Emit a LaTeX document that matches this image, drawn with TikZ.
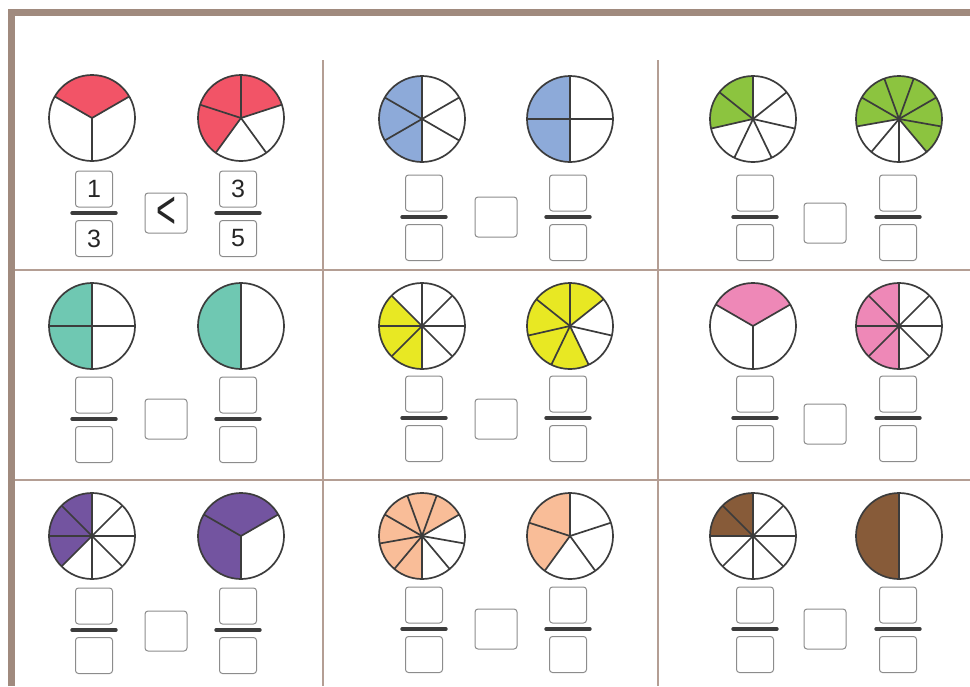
\documentclass[tikz,border=0pt]{standalone}
\usepackage{fontspec}
\setmainfont{Liberation Sans}
\usepackage{graphicx}
\usetikzlibrary{positioning}

\definecolor{framec}{HTML}{A08A7E}
\definecolor{gridc}{HTML}{B49E94}
\definecolor{inkc}{HTML}{3C3C3C}
\definecolor{boxc}{HTML}{8C8C8C}
\definecolor{pred}{HTML}{F25467}
\definecolor{pblue}{HTML}{8DAAD9}
\definecolor{pgreen}{HTML}{8CC43F}
\definecolor{pteal}{HTML}{6FC8B2}
\definecolor{pyellow}{HTML}{E8E823}
\definecolor{ppink}{HTML}{EE88B7}
\definecolor{ppurple}{HTML}{7354A0}
\definecolor{porange}{HTML}{F9BD98}
\definecolor{pbrown}{HTML}{875B39}

\begin{document}
\begin{tikzpicture}[
  x=1pt, y=-1pt,
  rim/.style={draw=inkc, line width=1.7pt},
  spoke/.style={draw=inkc, line width=1.7pt},
  numbox/.style={draw=boxc, line width=1pt, rounded corners=3pt,
                 minimum width=37pt, minimum height=36pt, inner sep=0pt},
  cmpbox/.style={draw=boxc, line width=1pt, rounded corners=3pt,
                 minimum width=42pt, minimum height=40pt, inner sep=0pt},
  fracbar/.style={draw=inkc, line width=3.4pt, line cap=round},
  gridl/.style={draw=gridc, line width=1.8pt},
  digit/.style={font=\fontsize{25}{28}\selectfont, text=black!85}
]
\useasboundingbox (0,0) rectangle (970,686);

% --- frame and grid --------------------------------------------------------
\draw[gridl] (323,60) -- (323,686);
\draw[gridl] (658,60) -- (658,686);
\draw[gridl] (15,270) -- (970,270);
\draw[gridl] (15,480) -- (970,480);
\draw[framec, line width=7pt, line join=miter] (11.5,686) -- (11.5,12.5) -- (970,12.5);

% --- pies: centre / parts / first spoke / shaded from / to / colour ---------
\foreach \x/\y/\n/\o/\a/\b/\col in {
    92/118/3/270/30/150/pred,         241/118/5/90/18/234/pred,
    422/119/6/90/90/270/pblue,        570/119/4/0/90/270/pblue,
    753/119/7/90/90/192.857/pgreen,   899/119/9/270/-50/190/pgreen,
    92/326/4/0/90/270/pteal,          241/326/2/90/90/270/pteal,
    422/326/8/0/135/270/pyellow,      570/326/7/90/38.571/295.714/pyellow,
    753/326/3/270/30/150/ppink,       899/326/8/0/90/270/ppink,
    92/536/8/0/90/225/ppurple,        241/536/3/270/30/270/ppurple,
    422/536/9/270/30/270/porange,     570/536/5/90/90/234/porange,
    753/536/8/0/90/180/pbrown,        899/536/2/90/90/270/pbrown} {
  \coordinate (o) at (\x,\y);
  \fill[\col] (o) -- +(\a:43pt) arc[start angle=\a, end angle=\b, radius=43pt] -- cycle;
  \foreach \k in {1,...,\n} \draw[spoke] (o) -- +(\o+\k*360/\n:43pt);
  \draw[rim] (o) circle[radius=43pt];
}

% --- fraction boxes: cell / left x / right x / middle x / top y / middle y ---
\foreach \nm/\xl/\xr/\xm/\t/\m in {
    11/94/238/166/189/213,   12/424/568/496/193/217,   13/755/898/825/193/223,
    21/94/238/166/395/419,   22/424/568/496/394/419,   23/755/898/825/394/424,
    31/94/238/166/606/631,   32/424/568/496/605/629,   33/755/898/825/605/629} {
  \node[numbox] (n\nm l) at (\xl,\t) {};
  \node[numbox] (d\nm l) at (\xl,\t+49.5) {};
  \draw[fracbar] (\xl-22,\t+24) -- (\xl+22,\t+24);
  \node[numbox] (n\nm r) at (\xr,\t) {};
  \node[numbox] (d\nm r) at (\xr,\t+49.5) {};
  \draw[fracbar] (\xr-22,\t+24) -- (\xr+22,\t+24);
  \node[cmpbox] (c\nm) at (\xm,\m) {};
}

% --- worked example --------------------------------------------------------
\node[digit] at (n11l) {1};
\node[digit] at (d11l) {3};
\node[digit] at (n11r) {3};
\node[digit] at (d11r) {5};
\node[font=\fontsize{20}{22}\selectfont, text=black!85] at (c11) {\scalebox{1.7}[2.7]{<}};
\end{tikzpicture}
\end{document}
